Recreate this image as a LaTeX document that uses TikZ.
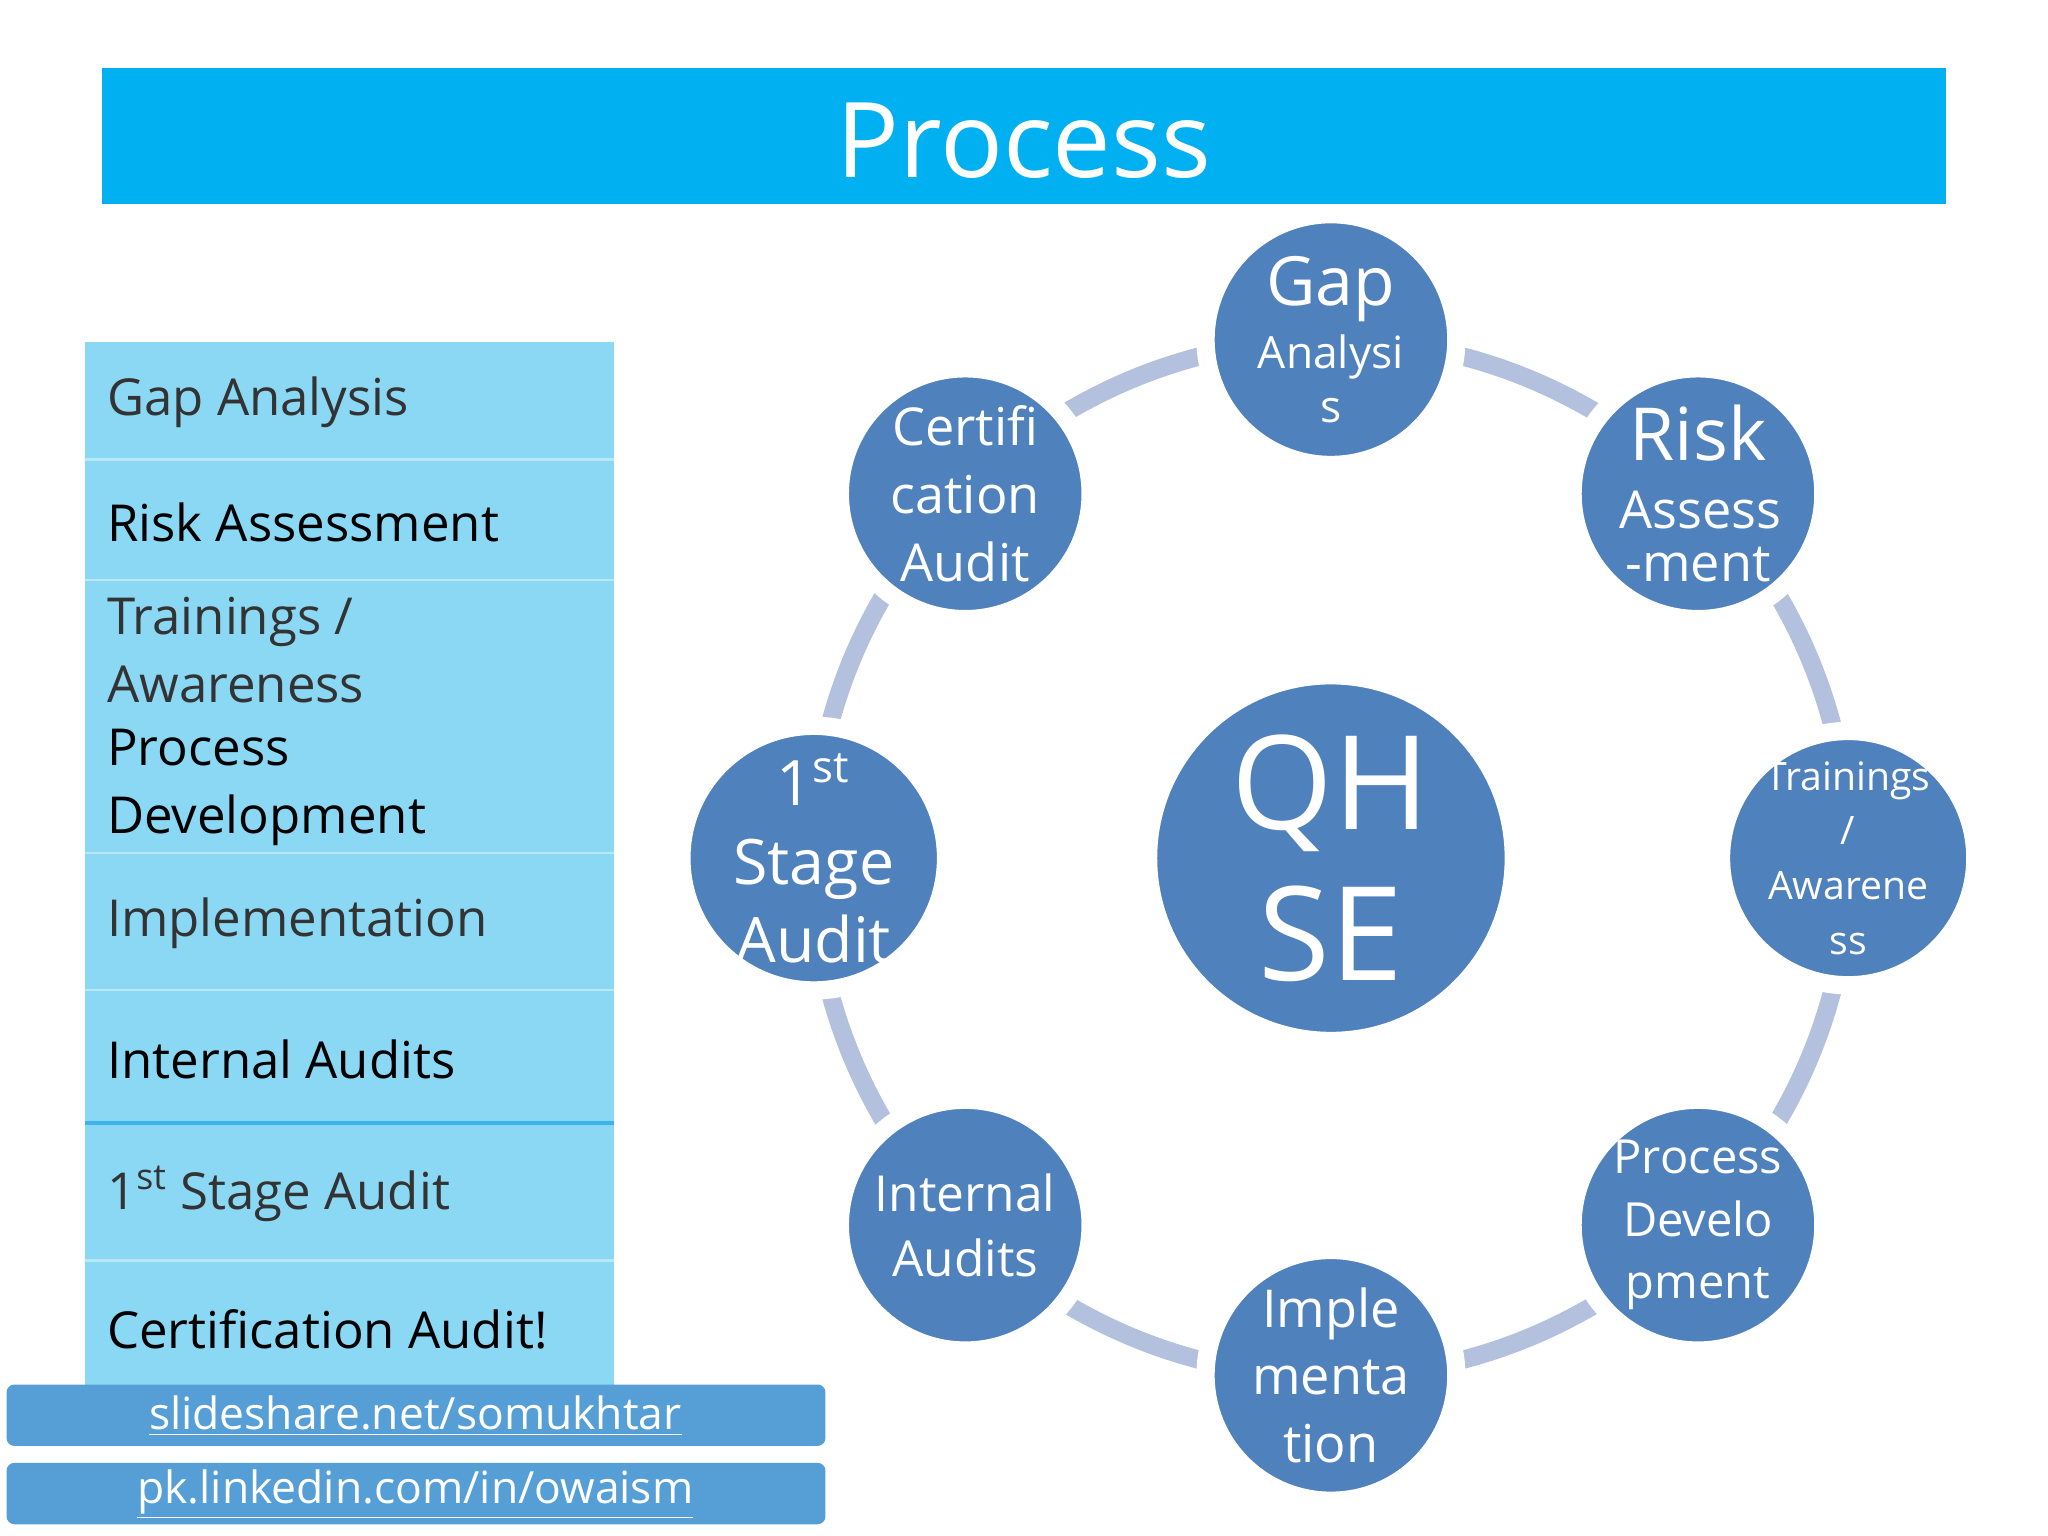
\documentclass[tikz,border=0pt]{standalone}
\usepackage{fontspec}
\setmainfont{Open Sans}
\definecolor{ring}{RGB}{179,193,222}
\definecolor{panel}{RGB}{139,216,245}
\definecolor{cblue}{RGB}{79,129,189}
\definecolor{tblue}{RGB}{0,176,240}
\definecolor{bblue}{RGB}{86,158,214}
\definecolor{sepb}{RGB}{60,180,235}
\newcommand\fsz[1]{\fontsize{#1}{#1}\selectfont}
\begin{document}
\begin{tikzpicture}[x=0.5pt,y=-0.5pt,
  sc/.style={circle,fill=cblue,draw=white,line width=7pt,minimum size=96pt,inner sep=0pt,text=white,align=center},
  lt/.style={anchor=west,align=left,text=black},
  bar/.style={fill=bblue,rounded corners=3pt}]
\useasboundingbox (0,0) rectangle (1568,1176);
\fill[tblue] (78,52) rectangle (1490,156);
\node[text=white,font=\fontsize{40}{50}\selectfont] (title) at (784,108) {Process};
% panel
\fill[panel] (65,262) rectangle (470,1068);
\foreach \yy in {352,444,653,758,965} \draw[white!40!panel,line width=1pt] (65,\yy) -- (470,\yy);
\draw[sepb,line width=1.5pt] (65,860) -- (470,860);
\tikzset{f21/.style={font=\fontsize{19.5}{26}\selectfont}}
\node[lt,f21,text=black!80] (l1) at (75,308) {Gap Analysis};
\node[lt,f21] (l2) at (75,400) {Risk Assessment};
\node[lt,f21,text=black!80] (l3) at (75,498) {Trainings /\\Awareness};
\node[lt,f21] (l4) at (75,603) {Process\\Development};
\node[lt,f21,text=black!80] (l5) at (75,707) {Implementation};
\node[lt,f21] (l6) at (75,811) {Internal Audits};
\node[lt,f21,text=black!80] (l7) at (75,914) {1\textsuperscript{st} Stage Audit};
\node[lt,f21] (l8) at (75,1018) {Certification Audit!};
% footer bars
\fill[bar] (5,1060) rectangle (632,1107);
\fill[bar] (5,1120) rectangle (632,1167);
\node[text=white,font=\fontsize{17}{22}\selectfont] (f1) at (318,1084) {\underline{slideshare.net/somukhtar}};
\node[text=white,font=\fontsize{17}{22}\selectfont] (f2) at (318,1144) {\underline{pk.linkedin.com/in/owaism}};
% ring
\draw[ring,line width=7pt] (1019,657) circle[radius=397];
\node[sc,line width=3pt,minimum size=136pt,font=\fontsize{50}{58}\selectfont] (q) at (1019,657) {QH\\SE};
\node[sc,text width=60pt] (a) at (1019,260) {\fsz{26}Gap\\[4pt]\fsz{17}Analysi\\[6pt]\fsz{17}s};
\node[sc,text width=60pt] (b) at (1300,378) {\fsz{28}Risk\\[6pt]\fsz{20}Assess\\[6pt]\fsz{20}-ment};
\node[sc,font=\fontsize{15}{21}\selectfont] (c) at (1415,657) {Trainings\\/\\Awarene\\ss};
\node[sc,font=\fontsize{18}{24}\selectfont] (d) at (1300,938) {Process\\Develo\\pment};
\node[sc,font=\fontsize{20}{26}\selectfont] (e) at (1019,1053) {Imple\\menta\\tion};
\node[sc,font=\fontsize{19}{25}\selectfont] (f) at (739,938) {Internal\\Audits};
\node[sc,font=\fontsize{24}{30}\selectfont] (g) at (623,657) {1\textsuperscript{st}\\Stage\\Audit};
\node[sc,font=\fontsize{20}{26}\selectfont] (h) at (739,378) {Certifi\\cation\\Audit};
\end{tikzpicture}
\end{document}
